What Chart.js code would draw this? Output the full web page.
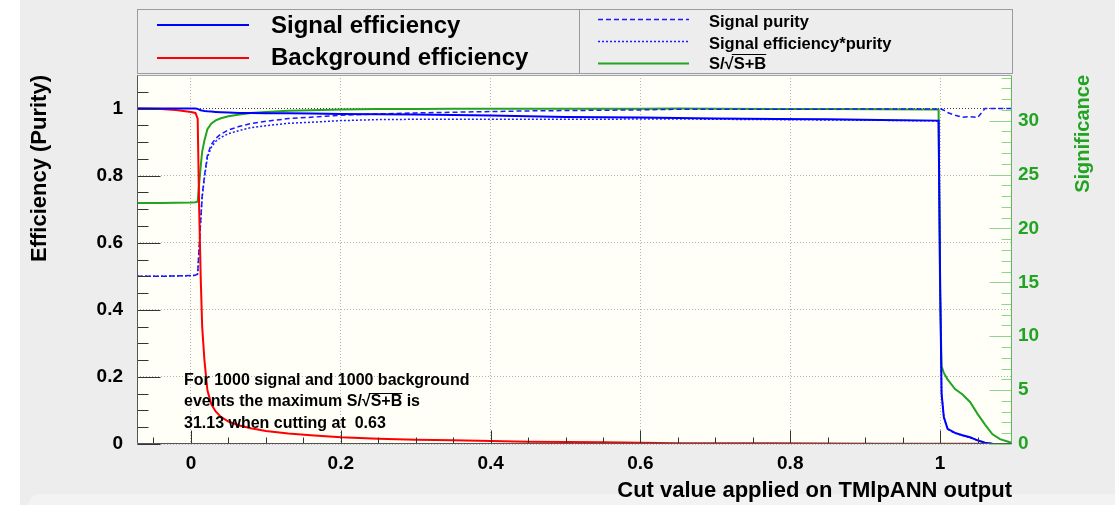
<!DOCTYPE html>
<html lang="en">
<head>
<meta charset="UTF-8">
<title>TMVA cut efficiencies</title>
<script src="https://cdn.jsdelivr.net/npm/chart.js"></script>
<style>
  html, body { margin: 0; padding: 0; background: #ffffff; }
  .pad { position: absolute; left: 20px; top: 0; width: 1095px; height: 505px; background: #ededed; overflow: hidden; }
  .card { position: absolute; left: 8px; top: 494px; width: 1100px; height: 40px; background: #f3f3f3; border-radius: 12px; }
  .plot { position: absolute; left: 0; top: 0; width: 1115px; height: 505px; }
</style>
</head>
<body>
<div class="pad"><div class="card"></div></div>
<div class="plot"><canvas id="cutEff"></canvas></div>

<script>
// values (cut value on the MVA output)
const cutValues = [-0.072, -0.04, -0.02, 0, 0.006, 0.009, 0.011, 0.013, 0.015, 0.018, 0.022, 0.027, 0.033, 0.04, 0.05, 0.065, 0.08, 0.1, 0.13, 0.16, 0.2, 0.25, 0.3, 0.35, 0.4, 0.45, 0.5, 0.55, 0.6, 0.65, 0.7, 0.78, 0.85, 0.92, 0.998, 1.0, 1.002, 1.005, 1.01, 1.02, 1.03, 1.04, 1.05, 1.06, 1.07, 1.08, 1.096];

const sigEff = [1, 1, 1, 1, 1, 0.999, 0.997, 0.995, 0.994, 0.993, 0.992, 0.991, 0.99, 0.989, 0.988, 0.987, 0.987, 0.986, 0.986, 0.985, 0.984, 0.983, 0.982, 0.981, 0.979, 0.977, 0.975, 0.974, 0.973, 0.972, 0.970, 0.969, 0.968, 0.966, 0.964, 0.5, 0.15, 0.08, 0.045, 0.033, 0.026, 0.02, 0.011, 0.004, 0.001, 0, 0];

const bkgEff = [1, 0.999, 0.996, 0.99, 0.987, 0.97, 0.7, 0.5, 0.35, 0.25, 0.16, 0.12, 0.097, 0.081, 0.067, 0.055, 0.047, 0.039, 0.031, 0.026, 0.02, 0.016, 0.013, 0.011, 0.009, 0.007, 0.006, 0.005, 0.004, 0.002, 0.002, 0.002, 0.0015, 0.001, 0.001, 0.001, 0.001, 0.001, 0.001, 0.001, 0.001, 0.001, 0.001, 0, 0, 0, 0];

const sigPurity = [0.5, 0.5, 0.501, 0.502, 0.503, 0.507, 0.588, 0.666, 0.74, 0.799, 0.861, 0.892, 0.911, 0.924, 0.936, 0.947, 0.955, 0.962, 0.97, 0.974, 0.98, 0.984, 0.987, 0.989, 0.991, 0.993, 0.994, 0.995, 0.996, 0.998, 0.998, 0.998, 0.998, 0.999, 0.999, 1.0, 0.998, 0.995, 0.988, 0.98, 0.974, 0.976, 0.973, 1, 1, 1, 1];

const effTimesPurity = [0.5, 0.5, 0.501, 0.502, 0.503, 0.506, 0.586, 0.663, 0.736, 0.793, 0.854, 0.884, 0.902, 0.914, 0.925, 0.935, 0.943, 0.949, 0.956, 0.959, 0.964, 0.967, 0.968, 0.968, 0.968, 0.968, 0.968, 0.968, 0.969, 0.969, 0.968, 0.967, 0.966, 0.965, 0.963, 0.5, 0.15, 0.08, 0.044, 0.032, 0.025, 0.019, 0.011, 0.004, 0.001, 0, 0];

const significance = [22.36, 22.36, 22.38, 22.41, 22.43, 22.49, 24.2, 25.75, 27.13, 28.16, 29.22, 29.73, 30.03, 30.23, 30.41, 30.58, 30.71, 30.8, 30.92, 30.97, 31.05, 31.08, 31.09, 31.1, 31.1, 31.11, 31.11, 31.12, 31.12, 31.13, 31.11, 31.09, 31.08, 31.06, 31.03, 14, 7.2, 6.6, 6.0, 5.1, 4.6, 3.9, 2.8, 1.8, 0.9, 0.45, 0.1];

const xTickValues = [0, 0.2, 0.4, 0.6, 0.8, 1];
const xTickLabels = ['0', '0.2', '0.4', '0.6', '0.8', '1'];
const yTickValues = [0, 0.2, 0.4, 0.6, 0.8, 1];
const yTickLabels = ['0', '0.2', '0.4', '0.6', '0.8', '1'];
const sigTickValues = [0, 5, 10, 15, 20, 25, 30];
const sigTickLabels = ['0', '5', '10', '15', '20', '25', '30'];

const maxSignificance = 31.13;
const sigAxisMax = maxSignificance * 1.1;

const infoLines = ['For 1000 signal and 1000 background', 'events the maximum S/√S+B is', '31.13 when cutting at  0.63'];

const FONT = '"Liberation Sans", Arial, Helvetica, sans-serif';
const GREEN = '#22a422';

const toPoints = ys => cutValues.map((x, i) => ({ x: x, y: ys[i] }));

// text with a square root: put a bar over what follows the root sign
function drawRootText(ctx, text, x, y, size) {
    ctx.fillText(text, x, y);
    const i = text.indexOf('√');
    if (i < 0) return;
    const under = text.slice(i + 1).split(' ')[0];
    const start = x + ctx.measureText(text.slice(0, i)).width;
    const rootW = ctx.measureText('√').width;
    const end = start + rootW + ctx.measureText(under).width;
    ctx.save();
    ctx.strokeStyle = '#000';
    ctx.lineWidth = 1;
    ctx.beginPath();
    ctx.moveTo(start + rootW * 0.8, Math.round(y - size * 0.86) + 0.5);
    ctx.lineTo(end, Math.round(y - size * 0.86) + 0.5);
    ctx.stroke();
    ctx.restore();
}

const tmvaFrame = {
    id: 'tmvaFrame',
    beforeDraw(chart) {
        const { ctx, chartArea: a } = chart;
        ctx.save();
        ctx.fillStyle = '#fffff8';
        ctx.fillRect(a.left, a.top, a.right - a.left, a.bottom - a.top);
        ctx.restore();
    },
    afterDatasetsDraw(chart) {
        const { ctx, chartArea: a } = chart;
        const sx = chart.scales.x, sy = chart.scales.y, s2 = chart.scales.y2;
        const L = Math.round(a.left) + 0.5, R = Math.round(a.right) - 0.5;
        const T = Math.round(a.top) + 0.5, B = Math.round(a.bottom) - 0.5;
        ctx.save();

        // tick marks, pointing into the frame
        ctx.lineWidth = 1;
        ctx.strokeStyle = '#333';
        for (let k = -1; k <= 21; k++) {
            const px = Math.round(sx.getPixelForValue(k * 0.05)) + 0.5;
            if (px < a.left || px > a.right) continue;
            const len = k % 4 === 0 ? 13 : 6;
            ctx.beginPath(); ctx.moveTo(px, B); ctx.lineTo(px, B - len); ctx.stroke();
        }
        for (let k = 0; k <= 22; k++) {
            const py = Math.round(sy.getPixelForValue(k * 0.05)) + 0.5;
            const len = k % 4 === 0 ? 23 : 11;
            ctx.beginPath(); ctx.moveTo(L, py); ctx.lineTo(L + len, py); ctx.stroke();
        }
        ctx.strokeStyle = '#8fd48f';
        for (let k = 0; k <= 34; k++) {
            const py = Math.round(s2.getPixelForValue(k)) + 0.5;
            const len = k % 5 === 0 ? 22 : 10;
            ctx.beginPath(); ctx.moveTo(R, py); ctx.lineTo(R - len, py); ctx.stroke();
        }

        // frame
        ctx.strokeStyle = '#a0a0a8';
        ctx.beginPath(); ctx.moveTo(L, T); ctx.lineTo(R, T); ctx.stroke();
        ctx.strokeStyle = '#555';
        ctx.beginPath(); ctx.moveTo(L, T); ctx.lineTo(L, B); ctx.lineTo(R, B); ctx.stroke();
        ctx.strokeStyle = '#5cbc5c';
        ctx.beginPath(); ctx.moveTo(R, T); ctx.lineTo(R, B); ctx.stroke();

        // right axis title
        ctx.save();
        ctx.translate(1089, a.top);
        ctx.rotate(-Math.PI / 2);
        ctx.fillStyle = GREEN;
        ctx.font = 'bold 20px ' + FONT;
        ctx.textAlign = 'right';
        ctx.textBaseline = 'alphabetic';
        ctx.fillText('Significance', 0, 0);
        ctx.restore();

        // info text
        ctx.fillStyle = '#000';
        ctx.strokeStyle = '#000';
        ctx.font = 'bold 16px ' + FONT;
        ctx.textAlign = 'left';
        ctx.textBaseline = 'alphabetic';
        infoLines.forEach((line, i) => drawRootText(ctx, line, 184, 385 + i * 21.3, 16));

        // legend: two boxes
        ctx.strokeStyle = '#9a9aa2';
        ctx.lineWidth = 1;
        ctx.strokeRect(137.5, 9.5, 875, 64);
        ctx.beginPath(); ctx.moveTo(579.5, 9.5); ctx.lineTo(579.5, 73.5); ctx.stroke();

        const ds = chart.data.datasets;
        const sample = (d, x0, x1, y) => {
            ctx.save();
            ctx.strokeStyle = d.borderColor;
            ctx.lineWidth = d.borderWidth;
            ctx.setLineDash(d.borderDash || []);
            ctx.beginPath(); ctx.moveTo(x0, y); ctx.lineTo(x1, y); ctx.stroke();
            ctx.restore();
        };
        ctx.fillStyle = '#000';
        ctx.font = 'bold 24px ' + FONT;
        sample(ds[0], 157, 249, 25);
        ctx.fillText(ds[0].label, 271, 33);
        sample(ds[1], 157, 249, 58);
        ctx.fillText(ds[1].label, 271, 65);

        ctx.font = 'bold 16.5px ' + FONT;
        sample(ds[2], 598, 689, 19.5);
        ctx.fillText(ds[2].label, 709, 26.5);
        sample(ds[3], 598, 689, 41.5);
        ctx.fillText(ds[3].label, 709, 48.5);
        sample(ds[4], 598, 689, 63.5);
        drawRootText(ctx, ds[4].label, 709, 68.5, 16.5);

        ctx.restore();
    }
};

new Chart(document.getElementById('cutEff'), {
    type: 'line',
    data: {
        datasets: [
            { label: 'Signal efficiency', data: toPoints(sigEff), borderColor: '#0000ff', borderWidth: 2, yAxisID: 'y' },
            { label: 'Background efficiency', data: toPoints(bkgEff), borderColor: '#ff0000', borderWidth: 2, yAxisID: 'y' },
            { label: 'Signal purity', data: toPoints(sigPurity), borderColor: '#1a1aff', borderWidth: 1.5, borderDash: [5, 3], yAxisID: 'y' },
            { label: 'Signal efficiency*purity', data: toPoints(effTimesPurity), borderColor: '#1a1aff', borderWidth: 1.5, borderDash: [2, 2], yAxisID: 'y' },
            { label: 'S/√S+B', data: toPoints(significance), borderColor: GREEN, borderWidth: 2, yAxisID: 'y2' }
        ]
    },
    options: {
        responsive: true,
        maintainAspectRatio: false,
        animation: false,
        layout: { padding: { top: 75, left: 0, right: 0, bottom: 0 } },
        elements: { point: { radius: 0 }, line: { tension: 0 } },
        plugins: {
            legend: { display: false },
            tooltip: { enabled: false }
        },
        scales: {
            x: {
                type: 'linear',
                min: -0.072,
                max: 1.096,
                afterFit: s => { s.height = 61; },
                afterBuildTicks: s => { s.ticks = xTickValues.map(v => ({ value: v })); },
                grid: { color: '#b4b4b4', drawTicks: false },
                border: { display: false, dash: [1, 2] },
                ticks: {
                    padding: 8, color: '#000', autoSkip: false, maxRotation: 0,
                    font: { family: FONT, size: 19, weight: 'bold' },
                    callback: (v, i) => xTickLabels[i]
                },
                title: {
                    display: true, text: 'Cut value applied on TMlpANN output', align: 'end', color: '#000',
                    font: { family: FONT, size: 22, weight: 'bold' },
                    padding: { top: 0, bottom: 1 }
                }
            },
            y: {
                position: 'left',
                min: 0,
                max: 1.1,
                afterFit: s => { s.width = 137; },
                afterBuildTicks: s => { s.ticks = yTickValues.map(v => ({ value: v })); },
                grid: {
                    drawTicks: false,
                    color: c => (c.tick && c.tick.value === 1) ? '#3c3c5a' : '#b4b4b4'
                },
                border: { display: false, dash: [1, 2] },
                ticks: {
                    padding: 14, color: '#000',
                    font: { family: FONT, size: 19, weight: 'bold' },
                    callback: (v, i) => yTickLabels[i]
                },
                title: {
                    display: true, text: 'Efficiency (Purity)', align: 'end', color: '#000',
                    font: { family: FONT, size: 22, weight: 'bold' },
                    padding: { top: 27, bottom: 0 }
                }
            },
            y2: {
                position: 'right',
                min: 0,
                max: sigAxisMax,
                afterFit: s => { s.width = 103; },
                afterBuildTicks: s => { s.ticks = sigTickValues.map(v => ({ value: v })); },
                grid: { display: false, drawTicks: false },
                border: { display: false },
                ticks: {
                    padding: 6, color: GREEN,
                    font: { family: FONT, size: 19, weight: 'bold' },
                    callback: (v, i) => sigTickLabels[i]
                }
            }
        }
    },
    plugins: [tmvaFrame]
});
</script>
</body>
</html>
